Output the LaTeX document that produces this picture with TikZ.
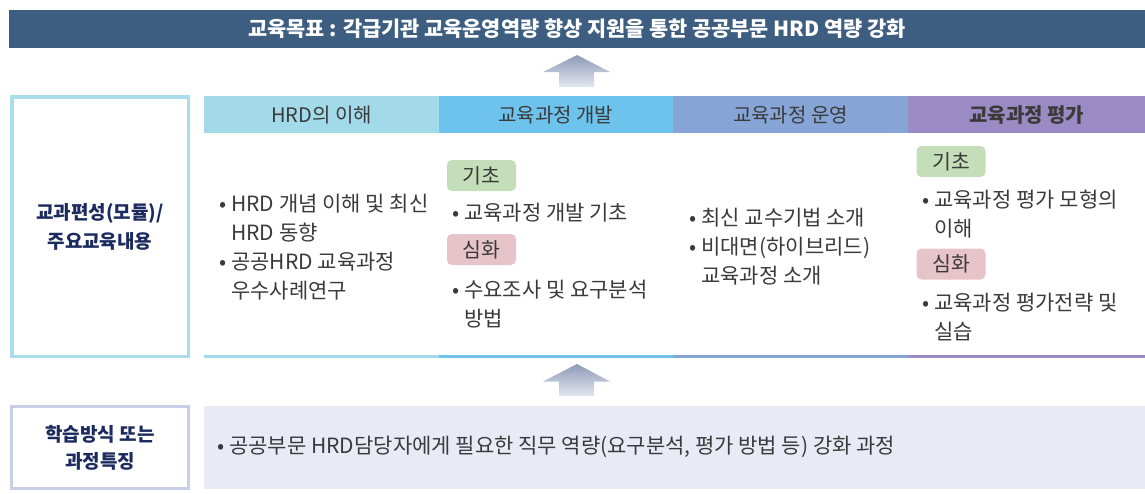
\documentclass[tikz,border=0pt]{standalone}
\usepackage{fontspec}
\setmainfont{Noto Sans CJK KR}
\usetikzlibrary{positioning}
\definecolor{barblue}{HTML}{3D5E80}
\definecolor{colA}{HTML}{A2DAE9}
\definecolor{colB}{HTML}{6EC3EC}
\definecolor{colC}{HTML}{86A5D6}
\definecolor{colD}{HTML}{9A8BC4}
\definecolor{navy}{HTML}{1C2B5F}
\definecolor{bodytxt}{HTML}{3A3A3A}
\definecolor{basic}{HTML}{C4DEB9}
\definecolor{adv}{HTML}{E7C3CA}
\definecolor{featfill}{HTML}{E8EBF5}
\definecolor{featline}{HTML}{C9CEE9}
\definecolor{leftline}{HTML}{A9DDEB}
\definecolor{arrtop}{HTML}{8E9BB8}
\definecolor{arrbot}{HTML}{E3E6EF}
\tikzset{
    head/.style = {rectangle, anchor=north west, minimum width=234.5pt, minimum height=37pt, inner sep=0pt, text=bodytxt, font=\fontsize{20}{22}\selectfont},
    side/.style = {rectangle, line width=3.5pt, fill=white, align=center, text=navy, font=\bfseries\fontsize{19}{29}\selectfont},
    tag/.style = {rectangle, rounded corners=5pt, minimum width=69pt, minimum height=31pt, inner sep=0pt, text=bodytxt, font=\fontsize{20.5}{22}\selectfont},
    txt/.style = {anchor=west, align=left, inner sep=0pt, text=bodytxt, font=\fontsize{21}{29}\selectfont},
    uparrow/.style = {top color=arrtop, bottom color=arrbot, draw=none}
}
\newcommand{\Bul}{•\hspace{5pt}}
\newcommand{\Ind}{\hphantom{\Bul}}

\begin{document}
\begin{tikzpicture}[x=1pt,y=-1pt]
\useasboundingbox (0,0) rectangle (1145,493);
% goal
\node[rectangle, fill=barblue, minimum width=1136pt, minimum height=38pt, inner sep=0pt, text=white, font=\bfseries\fontsize{20.8}{22}\selectfont] at (577,29) (goal) {교육목표 : 각급기관 교육운영역량 향상 지원을 통한 공공부문 HRD 역량 강화};
\shade[uparrow] (577,55) -- (610,72) -- (594,72) -- (594,87) -- (559,87) -- (559,72) -- (543,72) -- cycle;
%
\node[side, draw=leftline, minimum width=176.5pt, minimum height=259.5pt] at (100,226.5) (mod) {교과편성(모듈)/\\주요교육내용};
\node[head, fill=colA] at (204,96) (hA) {HRD의 이해};
\node[head, fill=colB] at (438.5,96) (hB) {교육과정 개발};
\node[head, fill=colC] at (673,96) (hC) {교육과정 운영};
\node[head, fill=colD, minimum width=237pt, font=\bfseries\fontsize{20}{22}\selectfont] at (908,96) (hD) {교육과정 평가};
\fill[colA] (204,355) rectangle (438.5,358);
\fill[colB] (438.5,355) rectangle (673,358);
\fill[colC] (673,355) rectangle (908,358);
\fill[colD] (908,355) rectangle (1145,358);
%
\node[txt] at (219,247) (tA) {\Bul HRD 개념 이해 및 최신\\\Ind HRD 동향\\\Bul 공공HRD 교육과정\\\Ind 우수사례연구};
\node[tag, fill=basic] at (481.5,175.5) (bB) {기초};
\node[txt] at (452,213) (tB1) {\Bul 교육과정 개발 기초};
\node[tag, fill=adv] at (481.5,249.5) (aB) {심화};
\node[txt] at (452,304) (tB2) {\Bul 수요조사 및 요구분석\\\Ind 방법};
\node[txt] at (689,247) (tC) {\Bul 최신 교수기법 소개\\\Bul 비대면(하이브리드)\\\Ind 교육과정 소개};
\node[tag, fill=basic] at (951,161.5) (bD) {기초};
\node[txt] at (922,214) (tD1) {\Bul 교육과정 평가 모형의\\\Ind 이해};
\node[tag, fill=adv] at (951,264) (aD) {심화};
\node[txt] at (922,317) (tD2) {\Bul 교육과정 평가전략 및\\\Ind 실습};
%
\shade[uparrow] (577,364) -- (610,381.5) -- (594,381.5) -- (594,396) -- (559,396) -- (559,381.5) -- (543,381.5) -- cycle;
\node[side, draw=featline, line width=3pt, minimum width=177pt, minimum height=82pt, font=\bfseries\fontsize{19}{27}\selectfont] at (100,447.5) (feat) {학습방식 또는\\과정특징};
\node[rectangle, fill=featfill, anchor=north west, minimum width=941pt, minimum height=83pt] at (204,406) (featbox) {};
\node[txt] at (217,447) (featt) {\Bul 공공부문 HRD담당자에게 필요한 직무 역량(요구분석, 평가 방법 등) 강화 과정};
\end{tikzpicture}
\end{document}
